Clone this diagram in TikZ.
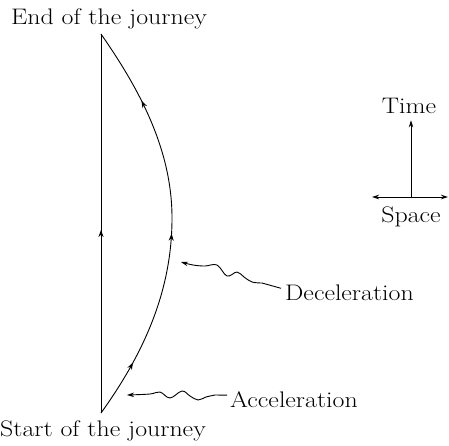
\documentclass[tikz,border=0pt]{standalone}
\usepackage{fontspec}
\setmainfont{Latin Modern Roman}[FakeStretch=1.15]
\usetikzlibrary{arrows.meta,decorations.markings}
\begin{document}
\begin{tikzpicture}[x=1pt,y=-1pt,
  line/.style={line width=0.9pt},
  tip/.style={-{Stealth[length=7pt,width=4.5pt]}},
  lbl/.style={font=\fontsize{22.5}{27}\selectfont, inner sep=0pt},
  every node/.style={lbl}]
\useasboundingbox (0,0) rectangle (449,445);
% labels
\node[anchor=base] (endlbl) at (109,24) {End of the journey};
\node[anchor=base] (startlbl) at (103,436) {Start of the journey};
\node[anchor=base] (timelbl) at (409,113) {Time};
\node[anchor=base] (spacelbl) at (411,222) {Space};
\node[anchor=base west] (decel) at (285,300) {Deceleration};
\node[anchor=base west] (accel) at (230,407) {Acceleration};
% world lines
\coordinate (S) at (101,413);
\coordinate (E) at (101,34);
\coordinate (M) at (172,218);
\draw[line, postaction={decorate}, decoration={markings,
  mark=at position 0.483 with {\arrow{Stealth[length=7pt,width=5pt]}}}]
  (S) -- (E);
\draw[line, postaction={decorate}, decoration={markings,
  mark=at position 0.145 with {\arrow{Stealth[length=7pt,width=5pt]}},
  mark=at position 0.475 with {\arrow{Stealth[length=7pt,width=5pt]}},
  mark=at position 0.81 with {\arrow{Stealth[length=7pt,width=5pt]}}}]
  (S) .. controls (150,345) and (172,283) .. (M)
      .. controls (172,150) and (140,90) .. (E);
% wavy pointers
\draw[line, tip] ([shift={(-4,-4)}]decel.west) --
  plot[smooth, tension=0.6] coordinates {(262,283) (252,282) (244,277) (237,272) (227,276) (217,265) (205,266) (193,265) (181,262)};
\draw[line, tip] ([shift={(-3,-4)}]accel.west) --
  plot[smooth, tension=0.6] coordinates {(215,395) (206,397) (198,400) (190,396) (182,391) (170,398) (160,392) (150,394) (127,395)};
% axes
\coordinate (O) at (411,197);
\coordinate (L) at (372,197);
\coordinate (R) at (448,197);
\draw[line, tip] (O) -- ([yshift=-7pt]O |- timelbl.south);
\draw[line, {Stealth[length=7pt,width=4.5pt]}-{Stealth[length=7pt,width=4.5pt]}] (L) -- (R);
\end{tikzpicture}
\end{document}
